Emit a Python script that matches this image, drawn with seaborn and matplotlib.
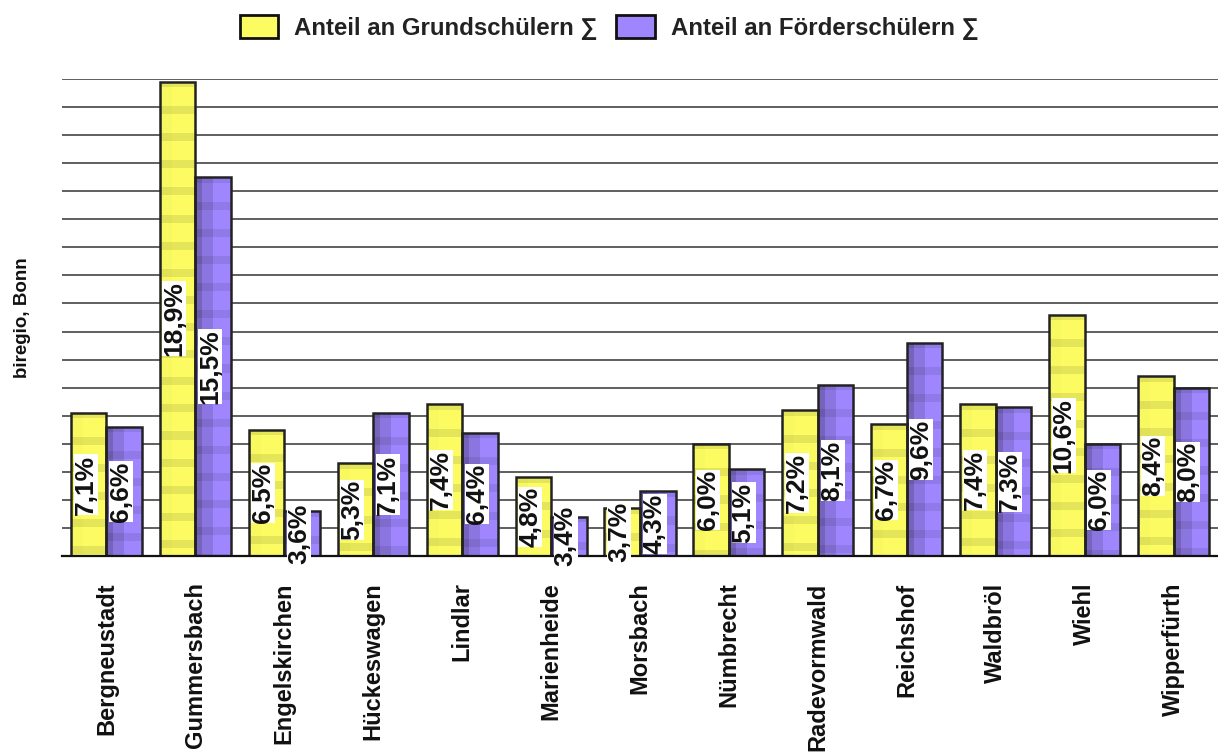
import numpy as np
import pandas as pd
import matplotlib
matplotlib.use("Agg")
import matplotlib.pyplot as plt
from matplotlib.patches import Patch
import seaborn as sns

# --- data -------------------------------------------------------------
gemeinden = ["Bergneustadt", "Gummersbach", "Engelskirchen", "Hückeswagen",
             "Lindlar", "Marienheide", "Morsbach", "Nümbrecht", "Radevormwald",
             "Reichshof", "Waldbröl", "Wiehl", "Wipperfürth"]
grundschueler = [7.1, 18.9, 6.5, 5.3, 7.4, 4.8, 3.7, 6.0, 7.2, 6.7, 7.4, 10.6, 8.4]
foerderschueler = [6.6, 15.5, 3.6, 7.1, 6.4, 3.4, 4.3, 5.1, 8.1, 9.6, 7.3, 6.0, 8.0]
serien = ["Anteil an Grundschülern ∑", "Anteil an Förderschülern ∑"]
y_label = "biregio, Bonn"

df = pd.DataFrame({
    "Gemeinde": gemeinden * 2,
    "Anteil": grundschueler + foerderschueler,
    "Serie": [serien[0]] * len(gemeinden) + [serien[1]] * len(gemeinden),
})

# --- style ------------------------------------------------------------
sns.set_theme(style="white")
plt.rcParams["font.family"] = ["Liberation Sans", "DejaVu Sans"]
plt.rcParams["font.weight"] = "bold"

gelb = "#fcfc62"
lila = "#9f86ff"
kante = "#222222"
y_min, y_max = 2, 19

fig = plt.figure(figsize=(12.18, 7.54), dpi=100)
ax = fig.add_axes([0.0509, 0.2626, 0.9491, 0.6326])

sns.barplot(data=df, x="Gemeinde", y="Anteil", hue="Serie",
            palette=[gelb, lila], width=0.8, edgecolor=kante,
            linewidth=1.8, legend=False, ax=ax, zorder=2)

ax.set_ylim(y_min, y_max)
ax.set_xlim(-0.5, len(gemeinden) - 0.5)
ax.set_yticks(np.arange(y_min, y_max + 1, 1))
ax.set_yticklabels([])
ax.tick_params(axis="y", length=0)
ax.tick_params(axis="x", length=0, pad=19)
ax.grid(axis="y", color="#444444", linewidth=1.2)
ax.set_axisbelow(True)
for s in ("top", "right", "left"):
    ax.spines[s].set_visible(False)
ax.spines["bottom"].set_color("#111111")
ax.spines["bottom"].set_linewidth(1.6)
ax.spines["bottom"].set_zorder(5)

ax.set_xticks(range(len(gemeinden)))
ax.set_xticklabels(gemeinden, rotation=90, fontsize=17, fontweight="bold",
                   color="#111111", va="top", ha="center")
ax.set_xlabel("")
ax.set_ylabel(y_label, fontsize=13.5, fontweight="bold", color="#111111",
              labelpad=19)


# --- striped bar faces ------------------------------------------------
def streifen(hex_farbe, spalten, n_zeilen, periode=27, band=8, versatz=25,
             dunkel=0.91):
    basis = np.array(matplotlib.colors.to_rgb(hex_farbe))
    cols = np.ones(36)
    for (a, b, f) in spalten:
        cols[int(a * 36):int(b * 36)] = f
    zeilen = np.arange(n_zeilen)
    shade = np.where(((zeilen - versatz) % periode) < band, dunkel, 1.0)
    img = basis[None, None, :] * cols[None, :, None] * shade[:, None, None]
    return np.clip(img, 0, 1)


spalten_gelb = [(0.0, 0.35, 0.985)]
spalten_lila = [(0.0, 0.22, 0.74), (0.22, 0.5, 0.88)]

for cont, werte, farbe, spalten in zip(ax.containers,
                                       [grundschueler, foerderschueler],
                                       [gelb, lila],
                                       [spalten_gelb, spalten_lila]):
    for patch, v in zip(cont.patches, werte):
        x0 = patch.get_x()
        w = patch.get_width()
        n = max(int(round((v - y_min) * 28)), 2)
        img = streifen(farbe, spalten, n)
        im = ax.imshow(img, extent=(x0, x0 + w, y_min, v), origin="upper",
                       aspect="auto", interpolation="nearest", zorder=1.9)
        im.set_clip_path(patch)
        patch.set_facecolor("none")

        text = f"{v:.1f}".replace(".", ",") + "%"
        ax.text(x0 + w / 2 - 0.035, (y_min + v) / 2, text, rotation=90,
                ha="center", va="center", fontsize=19, fontweight="bold",
                color="#111111", zorder=6, clip_on=False,
                bbox=dict(boxstyle="square,pad=0.0", facecolor="white",
                          edgecolor="none"))

ax.set_xlim(-0.5, len(gemeinden) - 0.5)
ax.set_ylim(y_min, y_max)

# --- legend -----------------------------------------------------------
handles = [Patch(facecolor=gelb, edgecolor="#111111", linewidth=2),
           Patch(facecolor=lila, edgecolor="#111111", linewidth=2)]
fig.legend(handles, serien, loc="center", bbox_to_anchor=(0.5, 0.964),
           ncol=2, frameon=False, handlelength=1.6, handleheight=1.15,
           handletextpad=0.65, columnspacing=0.8,
           prop=dict(size=17.3, weight="bold"), labelcolor="#222222")

fig.savefig("out.png", dpi=100)
